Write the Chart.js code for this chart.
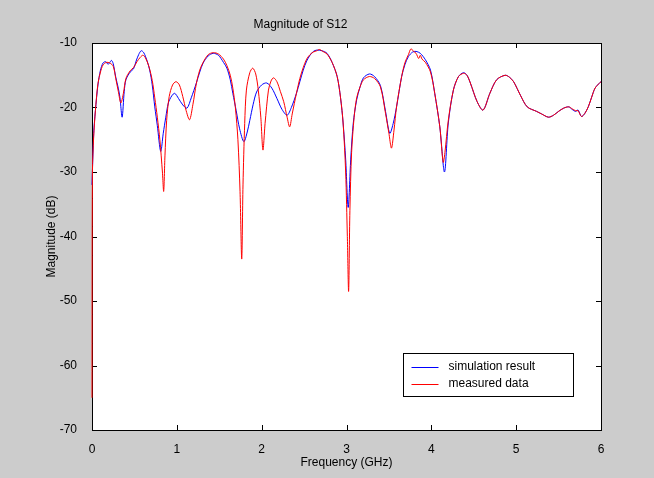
<!DOCTYPE html>
<html>
<head>
<meta charset="utf-8">
<script src="https://cdn.jsdelivr.net/npm/chart.js@4/dist/chart.umd.min.js"></script>
<style>
  body { margin: 0; background: #cccccc; }
  #wrap { width: 654px; height: 478px; }
</style>
</head>
<body>
<div id="wrap"><canvas id="s12" width="654" height="478"></canvas></div>
<script>
// simulation result (blue)
const simFreq = [0.00, 0.02, 0.04, 0.07, 0.10, 0.13, 0.16, 0.19, 0.21, 0.23, 0.25, 0.28, 0.31, 0.33, 0.355, 0.38, 0.40, 0.45, 0.49, 0.52,
  0.55, 0.58, 0.61, 0.65, 0.68, 0.71, 0.74, 0.77, 0.81, 0.84, 0.87, 0.90, 0.94, 0.975, 1.02, 1.07, 1.12, 1.17, 1.23, 1.27,
  1.31, 1.37, 1.43, 1.49, 1.55, 1.59, 1.63, 1.66, 1.70, 1.74, 1.79, 1.83, 1.86, 1.90, 1.94, 2.00, 2.06, 2.12, 2.18, 2.24,
  2.30, 2.35, 2.41, 2.45, 2.49, 2.53, 2.57, 2.61, 2.65, 2.71, 2.77, 2.83, 2.89, 2.93, 2.96, 2.99, 3.02, 3.05, 3.08, 3.12,
  3.16, 3.20, 3.27, 3.33, 3.40, 3.46, 3.51, 3.55, 3.59, 3.65, 3.69, 3.73, 3.78, 3.82, 3.87, 3.93, 3.99, 4.04, 4.10, 4.155,
  4.20, 4.26, 4.32, 4.38, 4.42, 4.46, 4.54, 4.61, 4.69, 4.77, 4.87, 4.92, 4.97, 5.05, 5.13, 5.24, 5.30, 5.38, 5.44, 5.50,
  5.56, 5.62, 5.66, 5.70, 5.73, 5.77, 5.81, 5.85, 5.89, 5.93, 5.99, 6.00];
const simMag = [-32, -24, -20.5, -16.5, -14.2, -13.1, -12.9, -13.3, -13.0, -12.7, -13.2, -15.3, -17.0, -18.5, -21.5, -17.5, -15.7, -14.5, -14.0, -12.8,
  -11.8, -11.2, -11.5, -12.8, -14.2, -16.5, -19.9, -22.8, -26.8, -24.0, -21.5, -19.3, -18.2, -17.8, -18.6, -19.6, -20.1, -18.5, -16.2, -14.5,
  -13.1, -12.0, -11.6, -11.9, -13.0, -13.9, -15.7, -17.8, -20.5, -23.3, -25.3, -23.8, -22.0, -19.5, -17.6, -16.5, -16.2, -17.0, -18.6, -20.3,
  -21.2, -20.0, -17.8, -16.0, -14.2, -12.8, -11.9, -11.3, -11.1, -11.2, -11.6, -13.0, -15.2, -18.5, -22.4, -28.0, -35.5, -28.0, -22.4, -18.8,
  -16.8, -15.4, -14.8, -15.2, -16.6, -20.6, -24.0, -22.5, -19.9, -15.2, -13.3, -12.1, -11.4, -11.3, -11.6, -12.6, -14.2, -17.8, -23.0, -30.0,
  -22.4, -17.3, -15.2, -14.6, -15.0, -16.2, -19.1, -20.4, -17.8, -15.7, -15.0, -15.3, -16.0, -18.1, -19.9, -20.6, -21.0, -21.5, -21.2, -20.6,
  -20.1, -19.9, -20.3, -20.6, -20.4, -21.4, -20.9, -19.9, -18.4, -17.0, -16.1, -16.0];

// measured data (red)
const measFreq = [0.000, 0.005, 0.02, 0.04, 0.07, 0.10, 0.13, 0.17, 0.21, 0.25, 0.28, 0.31, 0.34, 0.37, 0.40, 0.45, 0.49, 0.53, 0.57, 0.60,
  0.63, 0.67, 0.71, 0.74, 0.77, 0.80, 0.83, 0.845, 0.86, 0.88, 0.91, 0.95, 0.99, 1.03, 1.07, 1.11, 1.15, 1.19, 1.23, 1.27,
  1.31, 1.37, 1.43, 1.49, 1.55, 1.59, 1.63, 1.66, 1.69, 1.72, 1.745, 1.765, 1.78, 1.80, 1.82, 1.86, 1.895, 1.93, 1.96, 1.99,
  2.015, 2.04, 2.08, 2.11, 2.14, 2.18, 2.22, 2.26, 2.30, 2.33, 2.36, 2.41, 2.45, 2.49, 2.53, 2.57, 2.61, 2.65, 2.68, 2.72,
  2.77, 2.83, 2.89, 2.93, 2.96, 2.99, 3.01, 3.025, 3.04, 3.06, 3.09, 3.12, 3.16, 3.20, 3.27, 3.33, 3.40, 3.46, 3.50, 3.53,
  3.56, 3.59, 3.65, 3.69, 3.73, 3.76, 3.79, 3.82, 3.85, 3.87, 3.89, 3.93, 3.99, 4.04, 4.10, 4.14, 4.16, 4.20, 4.26, 4.32,
  4.38, 4.42, 4.46, 4.54, 4.61, 4.69, 4.77, 4.87, 4.92, 4.97, 5.05, 5.13, 5.24, 5.30, 5.38, 5.44, 5.50, 5.56, 5.62, 5.66,
  5.70, 5.73, 5.77, 5.81, 5.85, 5.89, 5.93, 5.99, 6.00];
const measMag = [-65, -30, -24.5, -20.5, -16.3, -14.5, -13.4, -13.0, -13.1, -13.6, -15.5, -17.5, -19.3, -17.8, -15.5, -14.3, -13.8, -12.9, -12.2, -11.9,
  -12.3, -13.6, -15.8, -18.5, -21.5, -25.0, -30.0, -33.0, -27.5, -22.0, -18.3, -16.5, -16.0, -16.5, -18.3, -20.5, -21.9, -19.5, -16.3, -14.2,
  -13.0, -11.8, -11.5, -11.7, -12.5, -13.5, -15.0, -17.0, -20.0, -25.0, -33.0, -43.5, -32.0, -22.5, -17.3, -14.6, -13.9, -14.8, -17.3, -21.5,
  -26.6, -22.5, -17.3, -15.9, -15.4, -16.0, -17.5, -19.1, -21.5, -23.0, -21.0, -17.8, -15.5, -13.8, -12.5, -11.8, -11.4, -11.2, -11.0, -11.3,
  -11.7, -13.0, -15.2, -18.5, -22.4, -30.0, -40.0, -48.5, -36.0, -27.0, -21.5, -18.5, -16.8, -15.7, -15.2, -15.5, -16.8, -20.9, -24.0, -26.3,
  -23.5, -19.9, -15.2, -13.0, -11.8, -10.9, -11.3, -11.6, -12.4, -11.9, -12.5, -13.0, -14.5, -17.8, -23.0, -28.5, -27.0, -22.0, -17.3, -15.2,
  -14.7, -15.0, -16.2, -19.1, -20.4, -17.8, -15.7, -15.0, -15.3, -16.0, -18.1, -19.9, -20.6, -21.0, -21.5, -21.2, -20.6, -20.1, -19.9, -20.2,
  -20.5, -20.5, -21.4, -20.9, -19.9, -18.4, -17.0, -16.1, -16.0];

const yTicks = [-70, -60, -50, -40, -30, -20, -10];
const xTicks = [0, 1, 2, 3, 4, 5, 6];

const FONT = "'Liberation Sans', Arial, sans-serif";

function toPoints(xs, ys) {
    return xs.map((x, i) => ({ x: x, y: ys[i] }));
}

// grey figure, white axes, black box with inward ticks (under the curves), legend box on top
const matlabLook = {
    id: 'matlabLook',
    beforeDraw(chart) {
        const { ctx, chartArea: a } = chart;
        ctx.save();
        ctx.fillStyle = '#cccccc';
        ctx.fillRect(0, 0, chart.width, chart.height);
        ctx.fillStyle = '#ffffff';
        ctx.fillRect(a.left, a.top, a.right - a.left, a.bottom - a.top);
        ctx.restore();
    },
    beforeDatasetsDraw(chart) {
        const { ctx, chartArea: a, scales } = chart;
        const len = 5;
        ctx.save();
        ctx.strokeStyle = '#000000';
        ctx.lineWidth = 1;
        ctx.beginPath();
        xTicks.forEach(v => {
            const px = Math.round(scales.x.getPixelForValue(v)) + 0.5;
            ctx.moveTo(px, a.bottom); ctx.lineTo(px, a.bottom - len);
            ctx.moveTo(px, a.top); ctx.lineTo(px, a.top + len);
        });
        yTicks.forEach(v => {
            const py = Math.round(scales.y.getPixelForValue(v)) + 0.5;
            ctx.moveTo(a.left, py); ctx.lineTo(a.left + len, py);
            ctx.moveTo(a.right, py); ctx.lineTo(a.right - len, py);
        });
        ctx.stroke();
        ctx.strokeRect(Math.round(a.left) + 0.5, Math.round(a.top) + 0.5,
            Math.round(a.right - a.left), Math.round(a.bottom - a.top));
        ctx.restore();
    },
    afterDatasetsDraw(chart) {
        const { ctx } = chart;
        const lx = 403.5, ly = 353.5, lw = 170, lh = 43;
        ctx.save();
        ctx.fillStyle = '#ffffff';
        ctx.fillRect(lx, ly, lw, lh);
        ctx.strokeStyle = '#000000';
        ctx.lineWidth = 1;
        ctx.strokeRect(lx, ly, lw, lh);
        ctx.font = '12px ' + FONT;
        ctx.textBaseline = 'middle';
        chart.data.datasets.forEach((ds, i) => {
            const y = ly + 13 + i * 17;
            ctx.strokeStyle = ds.borderColor;
            ctx.beginPath();
            ctx.moveTo(lx + 8, Math.round(y) + 0.5);
            ctx.lineTo(lx + 35, Math.round(y) + 0.5);
            ctx.stroke();
            ctx.fillStyle = '#000000';
            ctx.fillText(ds.label, lx + 45, y);
        });
        ctx.restore();
    }
};

new Chart(document.getElementById('s12').getContext('2d'), {
    type: 'line',
    data: {
        datasets: [{
            label: 'simulation result',
            data: toPoints(simFreq, simMag),
            borderColor: '#0000ff',
            borderWidth: 1,
            pointRadius: 0,
            tension: 0.3,
            fill: false,
            clip: false,
            order: 1
        }, {
            label: 'measured data',
            data: toPoints(measFreq, measMag),
            borderColor: '#ff0000',
            borderWidth: 1,
            pointRadius: 0,
            tension: 0.3,
            fill: false,
            clip: false,
            order: 0
        }]
    },
    options: {
        responsive: false,
        animation: false,
        layout: { padding: { left: 0, right: 53, top: 0, bottom: 0 } },
        plugins: {
            legend: { display: false },
            tooltip: { enabled: false },
            title: {
                display: true,
                text: 'Magnitude of S12',
                color: '#000000',
                font: { family: FONT, size: 12, weight: 'normal' },
                padding: { top: 17, bottom: 11.6 }
            }
        },
        scales: {
            x: {
                type: 'linear',
                min: 0,
                max: 6,
                grid: { display: false },
                border: { display: false },
                ticks: {
                    stepSize: 1,
                    color: '#000000',
                    padding: 4,
                    font: { family: FONT, size: 12 }
                },
                title: {
                    display: true,
                    text: 'Frequency (GHz)',
                    color: '#000000',
                    font: { family: FONT, size: 12 },
                    padding: { top: 0, bottom: 8 }
                },
                afterFit(scale) { scale.height = 48; }
            },
            y: {
                type: 'linear',
                min: -70,
                max: -10,
                grid: { display: false },
                border: { display: false },
                ticks: {
                    stepSize: 10,
                    color: '#000000',
                    padding: 7,
                    font: { family: FONT, size: 12 }
                },
                title: {
                    display: true,
                    text: 'Magnitude (dB)',
                    color: '#000000',
                    font: { family: FONT, size: 12 },
                    padding: { top: 44, bottom: 0 }
                },
                afterFit(scale) { scale.width = 92; }
            }
        }
    },
    plugins: [matlabLook]
});
</script>
</body>
</html>
